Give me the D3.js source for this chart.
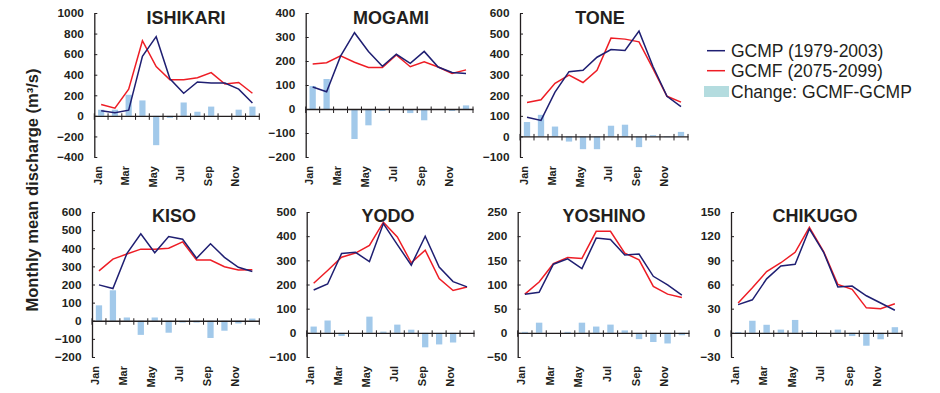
<!DOCTYPE html>
<html>
<head>
<meta charset="utf-8">
<script src="https://cdn.jsdelivr.net/npm/d3@7/dist/d3.min.js"></script>
<style>
  html, body { margin: 0; padding: 0; background: #fff; }
  svg { display: block; font-family: "Liberation Sans", Arial, sans-serif; }
</style>
</head>
<body>
<svg id="chart" width="940" height="393"></svg>
<script>
// ---------------- DATA ----------------
const months = ["Jan","Feb","Mar","Apr","May","Jun","Jul","Aug","Sep","Oct","Nov","Dec"];
const monthTickLabels = ["Jan","Mar","May","Jul","Sep","Nov"];
const rivers = ["ISHIKARI","MOGAMI","TONE","KISO","YODO","YOSHINO","CHIKUGO"];
const seriesNames = ["GCMP (1979-2003)","GCMF (2075-2099)","Change: GCMF-GCMP"];
const yTitle = "Monthly mean discharge (m\u00B3/s)";

const ishikariP = [50, 30, 55, 580, 770, 360, 220, 330, 320, 320, 260, 125];
const ishikariF = [110, 75, 260, 730, 480, 350, 350, 370, 420, 310, 325, 220];
const ishikariC = [60, 60, 205, 150, -285, -20, 130, 40, 90, 0, 60, 90];
const ishikariTicks = [-400, -200, 0, 200, 400, 600, 800, 1000];

const mogamiP = [92, 72, 220, 318, 240, 178, 228, 190, 240, 175, 152, 148];
const mogamiF = [188, 193, 222, 195, 173, 173, 225, 176, 197, 175, 148, 163];
const mogamiC = [96, 125, -2, -125, -68, -8, -3, -17, -47, 0, -8, 15];
const mogamiTicks = [-200, -100, 0, 100, 200, 300, 400];

const toneP = [93, 78, 215, 315, 322, 385, 422, 418, 512, 340, 195, 145];
const toneF = [165, 178, 258, 298, 262, 322, 478, 473, 460, 330, 195, 167];
const toneC = [70, 105, 48, -25, -62, -62, 52, 57, -52, 6, -4, 22];
const toneTicks = [-100, 0, 100, 200, 300, 400, 500, 600];

const kisoP = [198, 178, 370, 480, 375, 465, 450, 345, 425, 350, 295, 272];
const kisoF = [275, 340, 368, 395, 395, 400, 435, 335, 335, 298, 280, 282];
const kisoC = [85, 168, 18, -78, 18, -66, -10, -10, -95, -55, -15, 12];
const kisoTicks = [-200, -100, 0, 100, 200, 300, 400, 500, 600];

const yodoP = [177, 202, 328, 333, 295, 452, 365, 280, 400, 272, 212, 190];
const yodoF = [205, 258, 313, 330, 362, 458, 397, 290, 342, 225, 175, 190];
const yodoC = [26, 51, -13, 0, 67, 5, 34, 13, -60, -48, -40, 0];
const yodoTicks = [-100, 0, 100, 200, 300, 400, 500];

const yoshinoP = [80, 84, 142, 153, 133, 196, 193, 161, 163, 117, 99, 78];
const yoshinoF = [80, 105, 143, 156, 154, 210, 210, 165, 151, 96, 80, 73];
const yoshinoC = [2, 21, 0, 2, 21, 13, 17, 5, -13, -19, -22, -5];
const yoshinoTicks = [-50, 0, 50, 100, 150, 200, 250];

const chikugoP = [35, 41, 67, 83, 85, 129, 100, 57, 58, 46, 37, 28];
const chikugoF = [37, 56, 76, 87, 100, 131, 101, 60, 54, 31, 30, 36];
const chikugoC = [1, 15, 10, 4, 16, 1, -1, 4, -4, -16, -8, 7];
const chikugoTicks = [-30, 0, 30, 60, 90, 120, 150];

// ---------------- LAYOUT (positions only) ----------------
const layout = [
  { x0: 94.3, x1: 259.3, top: 13,  bottom: 157, tx: 186, ty: 23.5 },
  { x0: 305.7, x1: 473,  top: 13,  bottom: 157, tx: 391, ty: 23.5 },
  { x0: 520,  x1: 688,   top: 13,  bottom: 157, tx: 600, ty: 23.5 },
  { x0: 92,   x1: 259.3, top: 212, bottom: 357, tx: 174, ty: 222 },
  { x0: 306.7, x1: 474,  top: 212, bottom: 357, tx: 388, ty: 222 },
  { x0: 517.7, x1: 689,  top: 212, bottom: 357, tx: 604, ty: 222 },
  { x0: 731,  x1: 902,   top: 212, bottom: 357, tx: 815, ty: 222 }
];

const panels = [
  [ishikariP, ishikariF, ishikariC, ishikariTicks],
  [mogamiP, mogamiF, mogamiC, mogamiTicks],
  [toneP, toneF, toneC, toneTicks],
  [kisoP, kisoF, kisoC, kisoTicks],
  [yodoP, yodoF, yodoC, yodoTicks],
  [yoshinoP, yoshinoF, yoshinoC, yoshinoTicks],
  [chikugoP, chikugoF, chikugoC, chikugoTicks]
].map((d, i) => ({ name: rivers[i], p: d[0], f: d[1], c: d[2], ticks: d[3], L: layout[i] }));

// ---------------- STYLE ----------------
const BLUE = "#1f1f72";
const RED = "#ee1d25";
const BAR = "#a2c9ea";
const SWATCH = "#b4dcdf";
const TXT = "#231f20";
const AXIS = "#231f20";

const svg = d3.select("#chart");
const labelLayer = svg.append("g").attr("class", "month-labels");

panels.forEach(pn => {
  const L = pn.L;
  const g = svg.append("g");
  const x = d3.scaleBand().domain(months).range([L.x0, L.x1]).paddingInner(0).paddingOuter(0);
  const bw = x.bandwidth();
  const y = d3.scaleLinear().domain([d3.min(pn.ticks), d3.max(pn.ticks)]).range([L.bottom, L.top]);
  const cx = m => x(m) + bw / 2;

  // bars
  const barW = bw * 0.45;
  g.selectAll("rect.bar").data(pn.c).join("rect")
    .attr("class", "bar")
    .attr("x", (v, i) => cx(months[i]) - barW / 2)
    .attr("y", v => y(Math.max(0, v)))
    .attr("width", barW)
    .attr("height", v => Math.abs(y(v) - y(0)))
    .attr("fill", BAR);

  // y axis
  const yAxis = d3.axisLeft(y).tickValues(pn.ticks).tickFormat(d3.format("d"))
    .tickSizeInner(-3).tickSizeOuter(0).tickPadding(10.5);
  const ya = g.append("g").attr("transform", `translate(${L.x0},0)`).call(yAxis);
  ya.select(".domain").attr("stroke", AXIS).attr("stroke-width", 1.3);
  ya.selectAll(".tick line").attr("stroke", AXIS).attr("stroke-width", 1);
  ya.selectAll(".tick text").attr("fill", TXT).attr("font-size", 11.8).attr("font-weight", "bold")
    .attr("font-family", '"Liberation Sans", Arial, sans-serif');

  // x axis at zero
  const y0 = y(0);
  const xa = d3.axisBottom(x).tickSize(0).tickFormat("");
  const xg = g.append("g").attr("transform", `translate(0,${y0})`).call(xa);
  xg.select(".domain").attr("stroke", AXIS).attr("stroke-width", 1.3);
  xg.selectAll(".tick").remove();
  const bounds = d3.range(months.length + 1).map(i => i === months.length ? L.x1 : x(months[i]));
  g.selectAll("line.xt").data(bounds).join("line")
    .attr("class", "xt")
    .attr("x1", d => d).attr("x2", d => d)
    .attr("y1", y0 - 2.5).attr("y2", y0 + 4)
    .attr("stroke", AXIS).attr("stroke-width", 1);

  // month labels (rotated, reading bottom to top)
  monthTickLabels.forEach(m => {
    const px = cx(m) + 0.5;
    const py = L.bottom + 9;
    labelLayer.append("text")
      .attr("x", px).attr("y", py)
      .attr("transform", "rotate(-90 " + px + " " + py + ")")
      .style("text-anchor", "end")
      .style("font-size", "11px").style("font-weight", "bold").style("fill", TXT)
      .text(m);
  });

  // lines
  const line = d3.line().x((v, i) => cx(months[i])).y(v => y(v));
  g.append("path").datum(pn.f).attr("d", line).attr("fill", "none")
    .attr("stroke", RED).attr("stroke-width", 1.5).attr("stroke-linejoin", "miter");
  g.append("path").datum(pn.p).attr("d", line).attr("fill", "none")
    .attr("stroke", BLUE).attr("stroke-width", 1.5).attr("stroke-linejoin", "miter");

  // title
  g.append("text").attr("x", L.tx).attr("y", L.ty).attr("text-anchor", "middle")
    .attr("font-size", 18).attr("font-weight", "bold").attr("fill", TXT)
    .text(pn.name);
});

// y title
svg.append("text")
  .attr("transform", "translate(38,190) rotate(-90)")
  .attr("text-anchor", "middle")
  .attr("font-size", 16.5).attr("font-weight", "bold").attr("fill", TXT)
  .text(yTitle);

// legend
const lg = svg.append("g");
const legendY = [50.7, 70.7, 91.5];
lg.append("line").attr("x1", 707).attr("x2", 725).attr("y1", legendY[0]).attr("y2", legendY[0])
  .attr("stroke", BLUE).attr("stroke-width", 1.5);
lg.append("line").attr("x1", 707).attr("x2", 725).attr("y1", legendY[1]).attr("y2", legendY[1])
  .attr("stroke", RED).attr("stroke-width", 1.5);
lg.append("rect").attr("x", 704).attr("y", 86).attr("width", 25).attr("height", 11).attr("fill", SWATCH);
lg.selectAll("text").data(seriesNames).join("text")
  .attr("x", 731).attr("y", (d, i) => legendY[i] + 6)
  .attr("font-size", 17.5).attr("fill", TXT)
  .text(d => d);
</script>
</body>
</html>
